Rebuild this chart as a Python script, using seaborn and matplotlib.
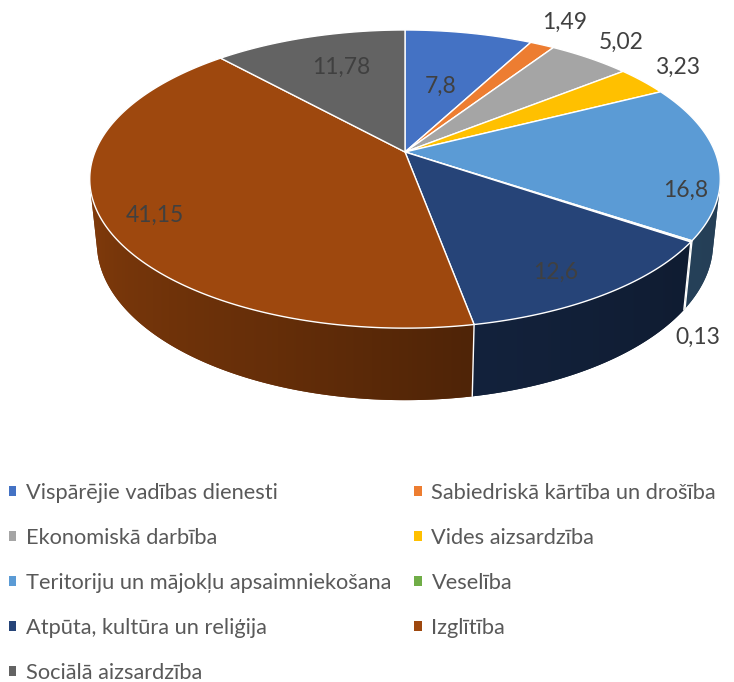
import numpy as np
import matplotlib
matplotlib.use("Agg")
import matplotlib.pyplot as plt
from matplotlib.patches import Polygon, Patch
import matplotlib.colors as mcolors
import seaborn as sns

# ---------------------------------------------------------------------------
# Data
# ---------------------------------------------------------------------------
categories = [
    "Vispārējie vadības dienesti",
    "Sabiedriskā kārtība un drošība",
    "Ekonomiskā darbība",
    "Vides aizsardzība",
    "Teritoriju un mājokļu apsaimniekošana",
    "Veselība",
    "Atpūta, kultūra un reliģija",
    "Izglītība",
    "Sociālā aizsardzība",
]
values = [7.8, 1.49, 5.02, 3.23, 16.8, 0.13, 12.6, 41.15, 11.78]
colors = ["#4472C4", "#ED7D31", "#A5A5A5", "#FFC000", "#5B9BD5",
          "#70AD47", "#264478", "#9E480E", "#636363"]

# label placement (radius on the pie, angle nudge, level: 0 top, 1 bottom)
label_r = [0.51, 1.24, 1.20, 1.18, 0.90, 1.10, 0.84, 0.85, 0.70]
label_dtheta = [0, -1, 0, -1, 13, 6, 3, -2, 2]
label_level = [0, 0, 0, 0, 0, 1, 0, 0, 0]

sns.set_theme(style="white")
plt.rcParams['font.family'] = ['Lato', 'DejaVu Sans']

# camera for the 3D look
CX, CY = 405, 152
K, D = 1512.0, 4.877
SE, CE = 0.465, np.sqrt(1 - 0.465 ** 2)
H = 0.235
# side wall faces the camera between these angles
SIDE_LO = np.degrees(np.arccos(-1 / (D * CE)))
SIDE_HI = 360 - SIDE_LO


def project(theta, r=1.0, z=0.0):
    t = np.radians(theta)
    u = r * np.sin(t)
    v = -r * np.cos(t)
    yc = v * SE - z * CE
    depth = D - v * CE - z * SE
    return CX + K * u / depth, CY + K * yc / depth


def shade(theta):
    return np.interp(theta, [0, 100, 130, 170, 200, 240, 275, 360],
                     [0.4, 0.40, 0.42, 0.50, 0.64, 0.77, 0.88, 0.9])


fig = plt.figure(figsize=(7.34, 6.82), dpi=100)
ax = fig.add_axes([0, 0, 1, 1])

total = sum(values)
bounds = np.concatenate([[0], np.cumsum(values) / total * 360])

# x position on the front rim -> angle, used for the side gradient
rim_t = np.linspace(SIDE_LO, SIDE_HI, 800)
rim_x = np.array([project(t)[0] for t in rim_t])
rim_order = np.argsort(rim_x)

# side walls with a horizontal light gradient
for i, col in enumerate(colors):
    a0, a1 = max(bounds[i], SIDE_LO), min(bounds[i + 1], SIDE_HI)
    if a1 <= a0:
        continue
    ang = np.linspace(a0, a1, max(2, int((a1 - a0) / 0.25) + 2))
    top = [project(t) for t in ang]
    bot = [project(t, z=-H) for t in ang[::-1]]
    pts = np.array(top + bot)
    base = np.array(mcolors.to_rgb(col))
    poly = Polygon(pts, closed=True, facecolor=base * shade((a0 + a1) / 2),
                   edgecolor="none")
    ax.add_patch(poly)
    xmin, xmax = pts[:, 0].min() - 1, pts[:, 0].max() + 1
    ymin, ymax = pts[:, 1].min() - 1, pts[:, 1].max() + 1
    xs = np.linspace(xmin, xmax, 300)
    ts = np.interp(xs, rim_x[rim_order], rim_t[rim_order])
    img = np.clip(base[None, :] * shade(ts)[:, None], 0, 1)[None, :, :]
    im = ax.imshow(img, extent=[xmin, xmax, ymax, ymin], aspect="auto",
                   interpolation="bilinear", zorder=1)
    im.set_clip_path(poly)

# white seams on the visible side
for b in bounds[1:-1]:
    if SIDE_LO < b < SIDE_HI:
        x0, y0 = project(b)
        x1, y1 = project(b, z=-H)
        ax.plot([x0, x1], [y0, y1], color="white", lw=1.0, zorder=2)

# top faces
for i, col in enumerate(colors):
    a0, a1 = bounds[i], bounds[i + 1]
    n = max(2, int(np.ceil((a1 - a0) / 0.5)) + 1)
    ang = np.linspace(a0, a1, n)
    pts = [(CX, CY)] + [project(t) for t in ang]
    ax.add_patch(Polygon(pts, closed=True, facecolor=col, zorder=3,
                         edgecolor="white", lw=1.0, joinstyle="round"))

# data labels
for i, v in enumerate(values):
    mid = (bounds[i] + bounds[i + 1]) / 2 + label_dtheta[i]
    x, y = project(mid, r=label_r[i], z=-H * label_level[i])
    txt = f"{v:g}".replace(".", ",")
    ax.text(x, y, txt, ha="center", va="center", fontsize=16.5,
            color="#404040", zorder=4)

ax.set_xlim(0, 734)
ax.set_ylim(682, 0)
ax.axis("off")

# legend, filled row by row like Excel
order = [0, 2, 4, 6, 8, 1, 3, 5, 7]
handles = [Patch(facecolor=colors[i], edgecolor="none") for i in order]
labels = [categories[i] for i in order]
fig.legend(handles, labels, ncol=2, loc="upper left",
           bbox_to_anchor=(0.0, 0.305), frameon=False, fontsize=15.7,
           handlelength=0.34, handleheight=0.34, handletextpad=0.45,
           columnspacing=1.05, labelspacing=1.15, labelcolor="#595959",
           borderaxespad=0)

fig.savefig("out.png", dpi=100)
